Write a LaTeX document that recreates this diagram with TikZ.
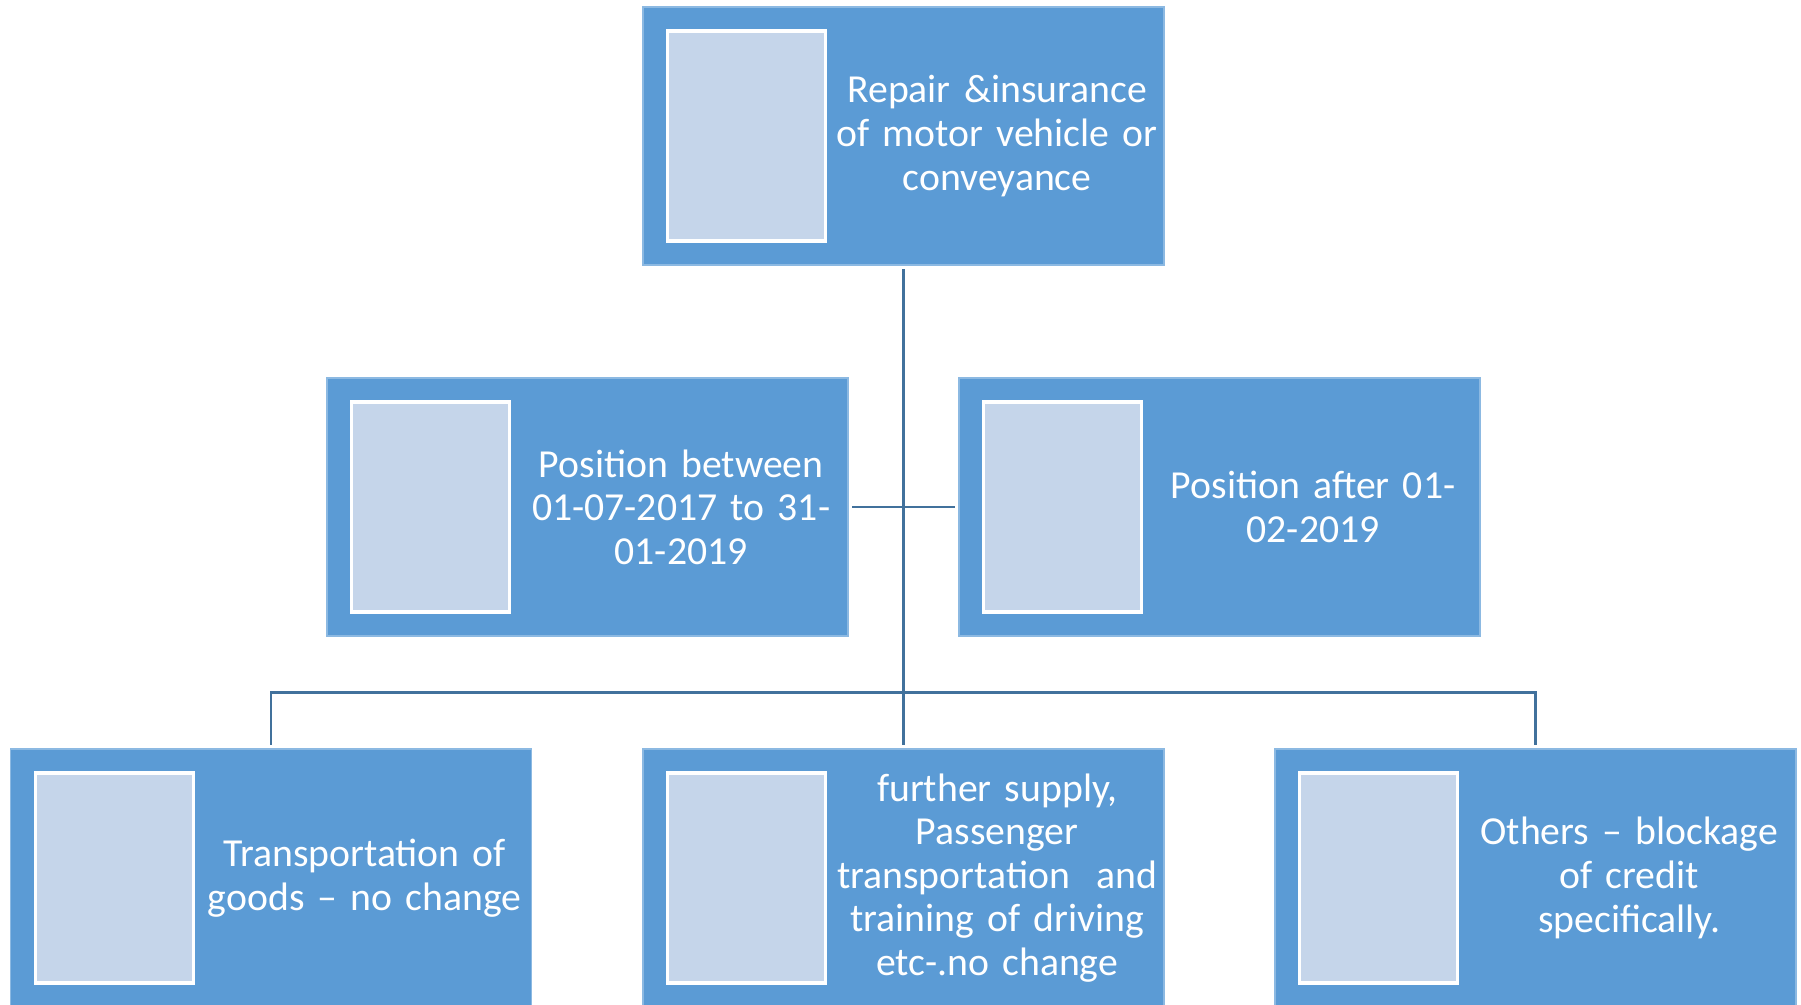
\documentclass[tikz,border=0pt]{standalone}
\usepackage{fontspec}
\setmainfont{Carlito}
\definecolor{boxblue}{HTML}{5B9BD5}
\definecolor{picblue}{HTML}{C5D5EA}
\definecolor{linkblue}{HTML}{41719C}
\begin{document}
\begin{tikzpicture}[
    box/.style={rectangle, fill=boxblue, draw=boxblue!70!white, line width=0.4pt, minimum width=5.21cm, minimum height=2.58cm, inner sep=0pt},
    picbox/.style={rectangle, fill=picblue, draw=white, line width=0.9pt, minimum width=1.58cm, minimum height=2.10cm, inner sep=0pt, anchor=west},
    txt/.style={anchor=west, text width=3.38cm, inner sep=0pt, align=center, text=white, font=\fontsize{11.3}{12.4}\selectfont},
    link/.style={draw=linkblue, line width=0.8pt, shorten <=1pt, shorten >=1pt}]
\useasboundingbox (0,0) rectangle (18.01,10.05);
        \node(A)[box] at (9.035,8.69){};
        \node(B1)[box] at (5.875,4.98){};
        \node(B2)[box] at (12.195,4.98){};
        \node(C1)[box] at (2.71,1.27){};
        \node(C2)[box] at (9.035,1.27){};
        \node(C3)[box] at (15.355,1.27){};
% pictures and texts
        \node(a)[picbox] at ([xshift=0.24cm]A.west){};
        \node(b1)[picbox] at ([xshift=0.24cm]B1.west){};
        \node(b2)[picbox] at ([xshift=0.24cm]B2.west){};
        \node(c1)[picbox] at ([xshift=0.24cm]C1.west){};
        \node(c2)[picbox] at ([xshift=0.24cm]C2.west){};
        \node(c3)[picbox] at ([xshift=0.24cm]C3.west){};
        \node(At)[txt] at (a.east){Repair \&insurance\\ of motor vehicle or\\ conveyance};
        \node(B1t)[txt] at (b1.east){Position between\\ 01-07-2017 to 31-\\ 01-2019};
        \node(B2t)[txt] at (b2.east){Position after 01-\\ 02-2019};
        \node(C1t)[txt] at (c1.east){Transportation of\\ goods -- no change};
        \node(C2t)[txt] at (c2.east){further supply,\\ Passenger\\ transportation\ \ and\\ training of driving\\ etc-.no change};
        \node(C3t)[txt] at (c3.east){Others -- blockage\\ of credit\\ specifically.};
\draw[link](A)--(C2);
\draw[link](B1)--(B2);
\draw[link](C1.north)--++(0,0.56)-|(C3.north);
    \end{tikzpicture}
\end{document}
